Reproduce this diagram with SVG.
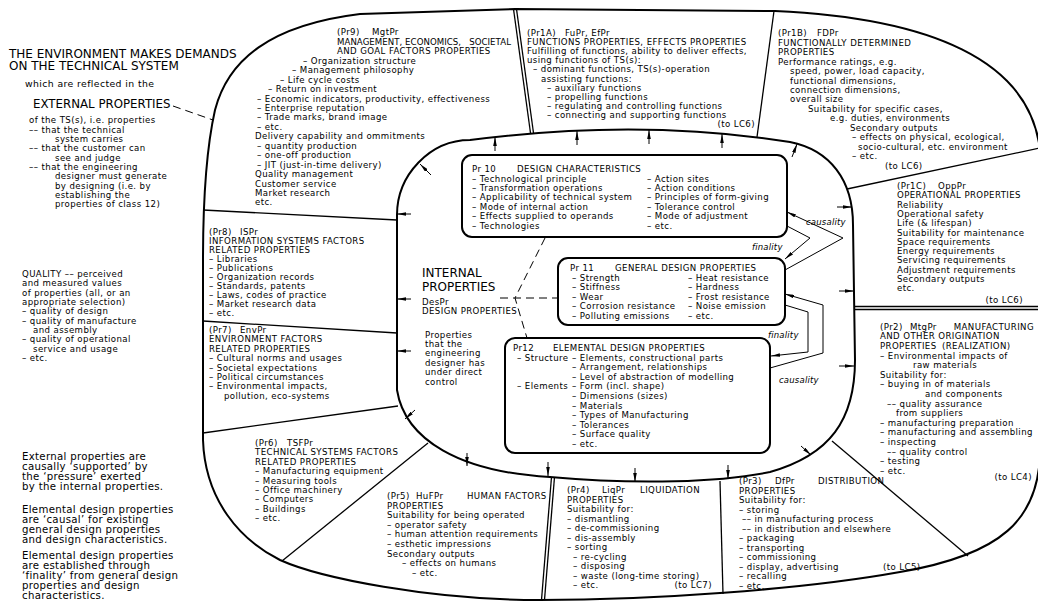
<svg xmlns="http://www.w3.org/2000/svg" width="1038" height="606" viewBox="0 0 1038 606">
<style>
text{font-family:"DejaVu Sans","Liberation Sans",sans-serif;font-size:8.6px;letter-spacing:0.4px;fill:#000}
.h1{font-size:12px;letter-spacing:0}
.h2{font-size:11.8px;letter-spacing:0}
.m9{font-size:9.3px}
.p10{font-size:10.2px;letter-spacing:0.3px}
.int{font-size:12px;letter-spacing:0}
.it{font-style:italic;font-size:8.5px;letter-spacing:0.2px}
.r{text-anchor:end}
.n{letter-spacing:0.05px}
.o{fill:none;stroke:#000;stroke-width:2}
.s{fill:none;stroke:#000;stroke-width:1.3}
.d{fill:none;stroke:#000;stroke-width:1;stroke-dasharray:8 5}
.box{fill:#fff;stroke:#000;stroke-width:2}
.a{fill:none;stroke:#000;stroke-width:1;marker-end:url(#ah)}
</style>
<defs>
<marker id="ah" viewBox="0 0 10 4" refX="10" refY="2" markerWidth="9" markerHeight="3.6" markerUnits="userSpaceOnUse" orient="auto"><path d="M0,0 L10,2 L0,4 z" fill="#000"/></marker>
</defs>
<rect width="1038" height="606" fill="#fff"/>

<g id="frame">
<path class="o" d="M203 440 L203 260 C203 200 206 150 215 110 C228 60 270 25 360 14 L515 9 L775 11 C930 18 1030 60 1040 150 L1040 450 C1040 520 1000 555 900 572 C800 590 650 600 540 600 C430 600 320 578 280 560 C240 540 205 500 203 440 Z"/>
<path class="o" d="M397 390 L397 215 C397 175 430 140 470 140 Q640 118 790 142 C830 150 853 180 853 225 L855 360 C855 420 830 455 770 472 C720 482 640 485 550 477 C460 472 405 440 397 390 Z"/>
<line class="s" x1="513.5" y1="9" x2="530.5" y2="133"/>
<line class="s" x1="516.5" y1="9" x2="533.5" y2="133"/>
<line class="s" x1="774" y1="11" x2="757" y2="137"/>
<line class="s" x1="847" y1="189" x2="1040" y2="148"/>
<line class="s" x1="855" y1="306.5" x2="1040" y2="306.5"/>
<line class="s" x1="855" y1="309.5" x2="1040" y2="309.5"/>
<line class="s" x1="832" y1="441" x2="968" y2="556"/>
<line class="s" x1="720" y1="481" x2="723" y2="594"/>
<line class="s" x1="551.5" y1="477" x2="541.5" y2="600"/>
<line class="s" x1="554.5" y1="477" x2="544.5" y2="600"/>
<line class="s" x1="428" y1="443" x2="282" y2="561"/>
<line class="s" x1="398" y1="406" x2="203" y2="433"/>
<line class="s" x1="397" y1="333" x2="203" y2="321"/>
<line class="s" x1="397" y1="220" x2="203" y2="210"/>
</g>

<g id="environment-text">
<text class="h1" x="9" y="58">THE ENVIRONMENT MAKES DEMANDS</text>
<text class="h1" x="9" y="70">ON THE TECHNICAL SYSTEM</text>
<text class="m9" x="25" y="87">which are reflected in the</text>
<text class="h2" x="33" y="108">EXTERNAL PROPERTIES</text>
<text x="29" y="123.3">of the TS(s), i.e. properties</text>
<text x="29" y="132.6">–– that the technical</text>
<text x="55" y="142">system carries</text>
<text x="29" y="151.3">–– that the customer can</text>
<text x="55" y="160.7">see and judge</text>
<text x="29" y="170">–– that the engineering</text>
<text x="55" y="179.4">designer must generate</text>
<text x="55" y="188.7">by designing (i.e. by</text>
<text x="55" y="198">establishing the</text>
<text x="55" y="207.4">properties of class 12)</text>
</g>

<g id="quality-text">
<text x="22" y="277">QUALITY –– perceived</text>
<text x="22" y="286.3">and measured values</text>
<text x="22" y="295.6">of properties (all, or an</text>
<text x="22" y="305">appropriate selection)</text>
<text x="22" y="314.3">– quality of design</text>
<text x="22" y="323.6">– quality of manufacture</text>
<text x="33" y="333">and assembly</text>
<text x="22" y="342.3">– quality of operational</text>
<text x="33" y="351.6">service and usage</text>
<text x="22" y="361">– etc.</text>
</g>

<g id="notes-text">
<text class="p10" x="22" y="460">External properties are</text>
<text class="p10" x="22" y="470">causally ‘supported’ by</text>
<text class="p10" x="22" y="480">the ‘pressure’ exerted</text>
<text class="p10" x="22" y="490">by the internal properties.</text>
<text class="p10" x="22" y="513">Elemental design properties</text>
<text class="p10" x="22" y="523">are ‘causal’ for existing</text>
<text class="p10" x="22" y="533">general design properties</text>
<text class="p10" x="22" y="543">and design characteristics.</text>
<text class="p10" x="22" y="559">Elemental design properties</text>
<text class="p10" x="22" y="569">are established through</text>
<text class="p10" x="22" y="579">‘finality’ from general design</text>
<text class="p10" x="22" y="589">properties and design</text>
<text class="p10" x="22" y="599">characteristics.</text>
</g>

<g id="Pr9">
<text x="337" y="35.3">(Pr9)</text><text x="372" y="35.3">MgtPr</text>
<text class="n" x="337" y="44.7">MANAGEMENT, ECONOMICS,</text><text class="r n" x="511" y="44.7">SOCIETAL</text>
<text x="337" y="54.2">AND GOAL FACTORS PROPERTIES</text>
<text x="303" y="63.7">– Organization structure</text>
<text x="292" y="73.1">– Management philosophy</text>
<text x="280" y="82.6">– Life cycle costs</text>
<text x="268" y="92">– Return on investment</text>
<text x="257" y="101.5">– Economic indicators, productivity, effectiveness</text>
<text x="257" y="110.9">– Enterprise reputation</text>
<text x="257" y="120.4">– Trade marks, brand image</text>
<text x="257" y="129.8">– etc.</text>
<text x="255" y="139.3">Delivery capability and ommitments</text>
<text x="257" y="148.7">– quantity production</text>
<text x="257" y="158.2">– one-off production</text>
<text x="257" y="167.6">– JIT (just-in-time delivery)</text>
<text x="255" y="177.1">Quality management</text>
<text x="255" y="186.5">Customer service</text>
<text x="255" y="196">Market research</text>
<text x="255" y="205.4">etc.</text>
</g>

<g id="Pr1A">
<text x="527" y="36">(Pr1A)</text><text x="565" y="36">FuPr, EfPr</text>
<text x="527" y="45.1">FUNCTIONS PROPERTIES, EFFECTS PROPERTIES</text>
<text x="527" y="54.2">Fulfilling of functions, ability to deliver effects,</text>
<text x="527" y="63.3">using functions of TS(s):</text>
<text x="533" y="72.4">– dominant functions, TS(s)-operation</text>
<text x="541" y="81.5">assisting functions:</text>
<text x="547" y="90.6">– auxiliary functions</text>
<text x="547" y="99.7">– propelling functions</text>
<text x="547" y="108.8">– regulating and controlling functions</text>
<text x="547" y="117.9">– connecting and supporting functions</text>
<text class="r" x="755" y="127">(to LC6)</text>
</g>

<g id="Pr1B">
<text x="778" y="36.3">(Pr1B)</text><text x="817" y="36.3">FDPr</text>
<text x="778" y="45.7">FUNCTIONALLY DETERMINED</text>
<text x="778" y="55.2">PROPERTIES</text>
<text x="778" y="64.6">Performance ratings, e.g.</text>
<text x="790" y="74.1">speed, power, load capacity,</text>
<text x="790" y="83.5">functional dimensions,</text>
<text x="790" y="93">connection dimensions,</text>
<text x="790" y="102.4">overall size</text>
<text x="808" y="111.9">Suitability for specific cases,</text>
<text x="830" y="121.3">e.g. duties, environments</text>
<text x="850" y="130.8">Secondary outputs</text>
<text x="852" y="140.2">– effects on physical, ecological,</text>
<text x="858" y="149.7">socio-cultural, etc. environment</text>
<text x="852" y="159.1">– etc.</text>
<text x="885" y="168.6">(to LC6)</text>
</g>

<g id="Pr1C">
<text x="897" y="189">(Pr1C)</text><text x="938" y="189">OppPr</text>
<text x="897" y="198.3">OPERATIONAL PROPERTIES</text>
<text x="897" y="207.6">Reliability</text>
<text x="897" y="216.9">Operational safety</text>
<text x="897" y="226.2">Life (&amp; lifespan)</text>
<text x="897" y="235.5">Suitability for maintenance</text>
<text x="897" y="244.8">Space requirements</text>
<text x="897" y="254.1">Energy requirements</text>
<text x="897" y="263.4">Servicing requirements</text>
<text x="897" y="272.7">Adjustment requirements</text>
<text x="897" y="282">Secondary outputs</text>
<text x="897" y="291.3">etc.</text>
<text class="r" x="1023" y="303">(to LC6)</text>
</g>

<g id="Pr2">
<text x="880" y="329.7">(Pr2)</text><text x="910" y="329.7">MtgPr</text><text class="r" x="1034" y="329.7">MANUFACTURING</text>
<text x="880" y="339.3">AND OTHER ORIGINATION</text>
<text x="880" y="348.9">PROPERTIES</text><text x="942" y="348.9">(REALIZATION)</text>
<text x="880" y="358.5">– Environmental impacts of</text>
<text x="913" y="368.1">raw materials</text>
<text x="880" y="377.7">Suitability for:</text>
<text x="880" y="387.3">– buying in of materials</text>
<text x="925" y="396.9">and components</text>
<text x="887" y="406.5">–– quality assurance</text>
<text x="896" y="416.1">from suppliers</text>
<text x="880" y="425.7">– manufacturing preparation</text>
<text x="880" y="435.3">– manufacturing and assembling</text>
<text x="880" y="444.9">– inspecting</text>
<text x="887" y="454.5">–– quality control</text>
<text x="880" y="464.1">– testing</text>
<text x="880" y="473.7">– etc.</text>
<text class="r" x="1032" y="480">(to LC4)</text>
</g>

<g id="Pr3">
<text x="739" y="484">(Pr3)</text><text x="775" y="484">DfPr</text><text x="818" y="484">DISTRIBUTION</text>
<text x="739" y="493.5">PROPERTIES</text>
<text x="739" y="503">Suitability for:</text>
<text x="739" y="512.5">– storing</text>
<text x="742" y="522">–– in manufacturing process</text>
<text x="742" y="531.5">–– in distribution and elsewhere</text>
<text x="739" y="541">– packaging</text>
<text x="739" y="550.5">– transporting</text>
<text x="739" y="560">– commissioning</text>
<text x="739" y="569.5">– display, advertising</text><text x="883" y="569.5">(to LC5)</text>
<text x="739" y="579">– recalling</text>
<text x="739" y="588.5">– etc.</text>
</g>

<g id="Pr4">
<text x="567" y="493">(Pr4)</text><text x="602" y="493">LiqPr</text><text x="640" y="493">LIQUIDATION</text>
<text x="567" y="502.5">PROPERTIES</text>
<text x="567" y="512">Suitability for:</text>
<text x="567" y="521.5">– dismantling</text>
<text x="567" y="531">– de-commissioning</text>
<text x="567" y="540.5">– dis-assembly</text>
<text x="567" y="550">– sorting</text>
<text x="573" y="559.5">– re-cycling</text>
<text x="573" y="569">– disposing</text>
<text x="573" y="578.5">– waste (long-time storing)</text>
<text x="573" y="588">– etc.</text><text class="r" x="712" y="588">(to LC7)</text>
</g>

<g id="Pr5">
<text x="387" y="499">(Pr5)</text><text x="416" y="499">HuFPr</text><text x="467" y="499">HUMAN FACTORS</text>
<text x="387" y="508.6">PROPERTIES</text>
<text x="387" y="518.2">Suitability for being operated</text>
<text x="387" y="527.8">– operator safety</text>
<text x="387" y="537.4">– human attention requirements</text>
<text x="387" y="547">– esthetic impressions</text>
<text x="387" y="556.6">Secondary outputs</text>
<text x="402" y="566.2">– effects on humans</text>
<text x="412" y="575.8">– etc.</text>
</g>

<g id="Pr6">
<text x="255" y="446">(Pr6)</text><text x="287" y="446">TSFPr</text>
<text x="255" y="455.4">TECHNICAL SYSTEMS FACTORS</text>
<text x="255" y="464.8">RELATED PROPERTIES</text>
<text x="255" y="474.2">– Manufacturing equipment</text>
<text x="255" y="483.6">– Measuring tools</text>
<text x="255" y="493">– Office machinery</text>
<text x="255" y="502.4">– Computers</text>
<text x="255" y="511.8">– Buildings</text>
<text x="255" y="521.2">– etc.</text>
</g>

<g id="Pr7">
<text x="209" y="333">(Pr7)</text><text x="240" y="333">EnvPr</text>
<text x="209" y="342.4">ENVIRONMENT FACTORS</text>
<text x="209" y="351.8">RELATED PROPERTIES</text>
<text x="209" y="361.2">– Cultural norms and usages</text>
<text x="209" y="370.6">– Societal expectations</text>
<text x="209" y="380">– Political circumstances</text>
<text x="209" y="389.4">– Environmental impacts,</text>
<text x="224" y="398.8">pollution, eco-systems</text>
</g>

<g id="Pr8">
<text x="209" y="235">(Pr8)</text><text x="240" y="235">ISPr</text>
<text x="209" y="244">INFORMATION SYSTEMS FACTORS</text>
<text x="209" y="253">RELATED PROPERTIES</text>
<text x="209" y="262">– Libraries</text>
<text x="209" y="271">– Publications</text>
<text x="209" y="280">– Organization records</text>
<text x="209" y="289">– Standards, patents</text>
<text x="209" y="298">– Laws, codes of practice</text>
<text x="209" y="307">– Market research data</text>
<text x="209" y="316">– etc.</text>
</g>

<g id="internal">
<text class="int" x="422" y="277">INTERNAL</text>
<text class="int" x="422" y="291">PROPERTIES</text>
<text x="422" y="305">DesPr</text>
<text x="422" y="313.5">DESIGN PROPERTIES</text>
<text x="425" y="337.5">Properties</text>
<text x="425" y="346.9">that the</text>
<text x="425" y="356.3">engineering</text>
<text x="425" y="365.7">designer has</text>
<text x="425" y="375.1">under direct</text>
<text x="425" y="384.5">control</text>
</g>

<g id="Pr10">
<rect class="box" x="462" y="155" width="325" height="82" rx="10"/>
<text x="472" y="172">Pr 10</text><text x="517" y="172">DESIGN CHARACTERISTICS</text>
<text x="472" y="181.5">– Technological principle</text><text x="647" y="181.5">– Action sites</text>
<text x="472" y="190.9">– Transformation operations</text><text x="647" y="190.9">– Action conditions</text>
<text x="472" y="200.4">– Applicability of technical system</text><text x="647" y="200.4">– Principles of form-giving</text>
<text x="472" y="209.8">– Mode of internal action</text><text x="647" y="209.8">– Tolerance control</text>
<text x="472" y="219.3">– Effects supplied to operands</text><text x="647" y="219.3">– Mode of adjustment</text>
<text x="472" y="228.7">– Technologies</text><text x="647" y="228.7">– etc.</text>
</g>

<g id="Pr11">
<rect class="box" x="558" y="258" width="227" height="67" rx="10"/>
<text x="570" y="271">Pr 11</text><text x="615" y="271">GENERAL DESIGN PROPERTIES</text>
<text x="572" y="280.6">– Strength</text><text x="688" y="280.6">– Heat resistance</text>
<text x="572" y="290.2">– Stiffness</text><text x="688" y="290.2">– Hardness</text>
<text x="572" y="299.8">– Wear</text><text x="688" y="299.8">– Frost resistance</text>
<text x="572" y="309.4">– Corrosion resistance</text><text x="688" y="309.4">– Noise emission</text>
<text x="572" y="319">– Polluting emissions</text><text x="688" y="319">– etc.</text>
</g>

<g id="Pr12">
<rect class="box" x="505" y="338" width="265" height="115" rx="10"/>
<text x="513" y="351">Pr12</text><text x="553" y="351">ELEMENTAL DESIGN PROPERTIES</text>
<text x="517" y="360.6">– Structure</text><text x="572" y="360.6">– Elements, constructional parts</text>
<text x="572" y="370.2">– Arrangement, relationships</text>
<text x="572" y="379.8">– Level of abstraction of modelling</text>
<text x="517" y="389.4">– Elements</text><text x="572" y="389.4">– Form (incl. shape)</text>
<text x="572" y="399">– Dimensions (sizes)</text>
<text x="572" y="408.6">– Materials</text>
<text x="572" y="418.2">– Types of Manufacturing</text>
<text x="572" y="427.8">– Tolerances</text>
<text x="572" y="437.4">– Surface quality</text>
<text x="572" y="447">– etc.</text>
</g>

<g id="connectors">
<line class="d" x1="173" y1="106" x2="213" y2="120"/>
<line class="d" x1="500" y1="298" x2="558" y2="298"/>
<polyline class="d" points="545,238 515,298 527,338"/>
<line class="a" x1="431" y1="175" x2="420" y2="164"/>
<line class="a" x1="495" y1="151" x2="495" y2="137"/>
<line class="a" x1="577" y1="145" x2="577" y2="131"/>
<line class="a" x1="649" y1="144" x2="649" y2="130"/>
<line class="a" x1="722" y1="148" x2="722" y2="134"/>
<line class="a" x1="792" y1="157" x2="797" y2="144"/>
<line class="a" x1="837" y1="207" x2="852" y2="207"/>
<line class="a" x1="839" y1="291" x2="854" y2="291"/>
<line class="a" x1="839" y1="366" x2="854" y2="366"/>
<line class="a" x1="801" y1="446" x2="811" y2="455"/>
<line class="a" x1="728" y1="465" x2="728" y2="479"/>
<line class="a" x1="635" y1="468" x2="635" y2="482"/>
<line class="a" x1="548" y1="462" x2="548" y2="476"/>
<line class="a" x1="467" y1="453" x2="467" y2="466"/>
<line class="a" x1="415" y1="410" x2="405" y2="419"/>
<line class="a" x1="411" y1="351" x2="397" y2="351"/>
<line class="a" x1="411" y1="299" x2="397" y2="299"/>
<line class="a" x1="411" y1="214" x2="397" y2="214"/>
<polyline class="a" points="787,226 810,238 785,259"/>
<polyline class="a" points="785,270 843,238 787,212"/>
<polyline class="a" points="785,305 808,312 808,352 771,356"/>
<polyline class="a" points="770,368 823,353 823,305 785,294"/>
<text class="it" x="806" y="225">causality</text>
<text class="it" x="752" y="250">finality</text>
<text class="it" x="768" y="338">finality</text>
<text class="it" x="779" y="383">causality</text>
</g>
</svg>
